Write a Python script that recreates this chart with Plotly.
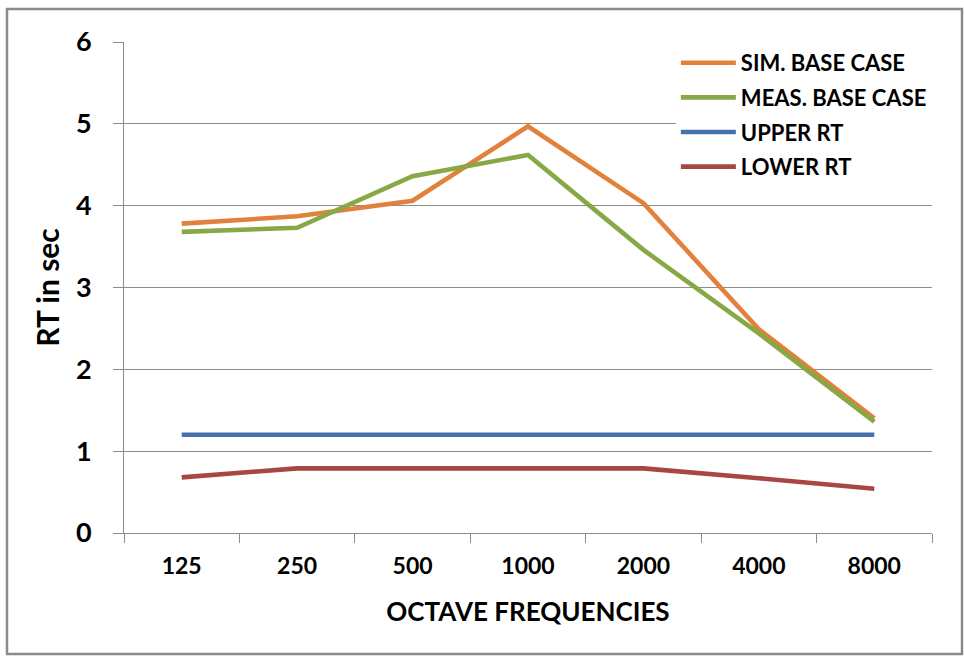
import plotly.graph_objects as go

frequencies = ["125", "250", "500", "1000", "2000", "4000", "8000"]
sim_base = [3.78, 3.87, 4.06, 4.97, 4.03, 2.49, 1.40]
meas_base = [3.68, 3.73, 4.36, 4.62, 3.46, 2.44, 1.36]
upper_rt = [1.20, 1.20, 1.20, 1.20, 1.20, 1.20, 1.20]
lower_rt = [0.68, 0.79, 0.79, 0.79, 0.79, 0.67, 0.54]

series = [
    ("SIM. BASE CASE", sim_base, "#E2813B"),
    ("MEAS. BASE CASE", meas_base, "#86A946"),
    ("UPPER RT", upper_rt, "#4571AB"),
    ("LOWER RT", lower_rt, "#A94542"),
]

FONT = "Lato"
GRID = "#8c8c8c"

fig = go.Figure()
for i, (name, vals, color) in enumerate(series):
    fig.add_trace(go.Scatter(
        x=frequencies, y=vals, name=name, mode="lines",
        line=dict(color=color, width=4.6),
        legendgroup=f"g{i}",
    ))

fig.update_layout(
    width=964, height=656,
    margin=dict(l=124, r=32, t=42, b=123, autoexpand=False),
    paper_bgcolor="white", plot_bgcolor="white",
    font=dict(family=FONT, color="black"),
    showlegend=True,
    legend=dict(
        x=0.683, y=1.0, xanchor="left", yanchor="top",
        bgcolor="white", borderwidth=0,
        font=dict(family=FONT, size=22, color="black", weight="bold"),
        tracegroupgap=3, itemwidth=55,
    ),
)

fig.update_xaxes(
    type="category",
    range=[-0.5, 6.5],
    showline=True, linecolor=GRID, linewidth=1,
    showgrid=False,
    ticks="outside", tickson="boundaries", ticklen=9, tickcolor=GRID,
    tickfont=dict(family=FONT, size=23, color="black", weight="bold"),
    ticklabelstandoff=12,
    title=dict(text="OCTAVE FREQUENCIES",
               font=dict(family=FONT, size=26, color="black", weight="bold"),
               standoff=25),
)
fig.update_yaxes(
    range=[0, 6], dtick=1,
    showline=True, linecolor=GRID, linewidth=1,
    showgrid=True, gridcolor=GRID, gridwidth=1,
    zeroline=False,
    ticks="outside", ticklen=10, tickcolor=GRID,
    tickfont=dict(family=FONT, size=27, color="black", weight="bold"),
    ticklabelstandoff=16,
    title=dict(text="RT in sec",
               font=dict(family=FONT, size=30, color="black", weight="bold"),
               standoff=7),
)

# outer chart border
fig.add_shape(type="rect", xref="paper", yref="paper",
              x0=-117/808, x1=(962 - 124) / 808,
              y0=-(654 - 533) / 491, y1=(533 - 9) / 491,
              line=dict(color="#8a8a8a", width=2.5), fillcolor="rgba(0,0,0,0)",
              layer="below")

fig.write_html("out.html")
